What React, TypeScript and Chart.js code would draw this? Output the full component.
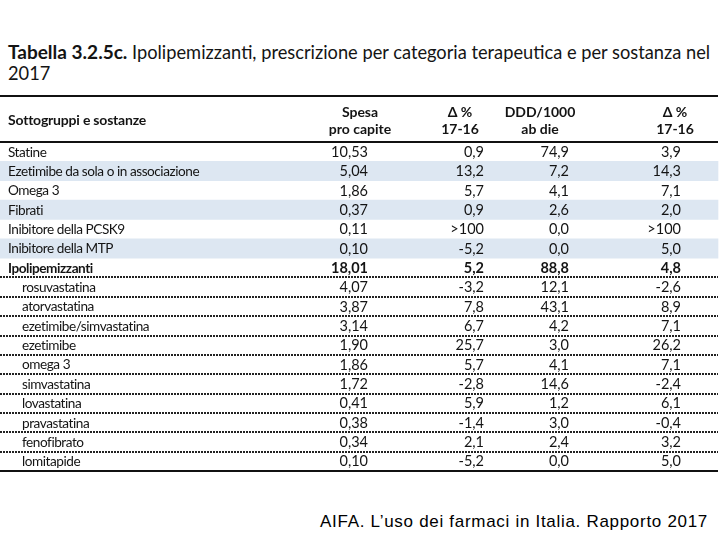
import React, { useEffect, useRef } from "react";
import { Chart, registerables } from "chart.js";

Chart.register(...registerables);

const rowLabels = [
  "Statine",
  "Ezetimibe da sola o in associazione",
  "Omega 3",
  "Fibrati",
  "Inibitore della PCSK9",
  "Inibitore della MTP",
  "Ipolipemizzanti",
  "rosuvastatina",
  "atorvastatina",
  "ezetimibe/simvastatina",
  "ezetimibe",
  "omega 3",
  "simvastatina",
  "lovastatina",
  "pravastatina",
  "fenofibrato",
  "lomitapide",
];
// null = ">100"
const spesaProCapite = [10.53, 5.04, 1.86, 0.37, 0.11, 0.1, 18.01, 4.07, 3.87, 3.14, 1.9, 1.86, 1.72, 0.41, 0.38, 0.34, 0.1];
const deltaSpesa = [0.9, 13.2, 5.7, 0.9, null, -5.2, 5.2, -3.2, 7.8, 6.7, 25.7, 5.7, -2.8, 5.9, -1.4, 2.1, -5.2];
const dddPer1000 = [74.9, 7.2, 4.1, 2.6, 0.0, 0.0, 88.8, 12.1, 43.1, 4.2, 3.0, 4.1, 14.6, 1.2, 3.0, 2.4, 0.0];
const deltaDdd = [3.9, 14.3, 7.1, 2.0, null, 5.0, 4.8, -2.6, 8.9, 7.1, 26.2, 7.1, -2.4, 6.1, -0.4, 3.2, 5.0];
const headerLine1 = ["Spesa", "Δ %", "DDD/1000", "Δ %"];
const headerLine2 = ["pro capite", "17-16", "ab die", "17-16"];
const firstHeader = "Sottogruppi e sostanze";
const highlightedRows = [1, 3, 5];
const totalRow = 6;
const firstSubstanceRow = 7;

const FONT = "Lato, 'Open Sans', sans-serif";
const TEXT = "#141414";

function fmt(v: number | null, d: number) {
  if (v === null) return ">100";
  return v.toFixed(d).replace(".", ",");
}

const tablePlugin = {
  id: "tableText",
  afterDatasetsDraw(chart: any) {
    const { ctx, chartArea, scales } = chart;
    const x = scales.x;
    const y = scales.y;
    const rowH = y.getPixelForValue(1) - y.getPixelForValue(0);
    const colRight = [368, 484, 569, 681].map((v) => x.getPixelForValue(v));
    const colCenter = [360, 460, 540, 675].map((v) => x.getPixelForValue(v));
    const cols = [
      spesaProCapite.map((v) => fmt(v, 2)),
      deltaSpesa.map((v) => fmt(v, 1)),
      dddPer1000.map((v) => fmt(v, 1)),
      deltaDdd.map((v) => fmt(v, 1)),
    ];
    ctx.save();
    ctx.fillStyle = TEXT;
    ctx.textBaseline = "middle";

    // header
    const top = chartArea.top;
    ctx.font = `bold 14px ${FONT}`;
    ctx.letterSpacing = "-0.2px";
    ctx.textAlign = "left";
    ctx.fillText(firstHeader, x.getPixelForValue(8), top - 22);
    ctx.letterSpacing = "0px";
    ctx.textAlign = "center";
    headerLine1.forEach((t, j) => ctx.fillText(t, colCenter[j], top - 30));
    headerLine2.forEach((t, j) => ctx.fillText(t, colCenter[j], top - 13));

    // rows
    rowLabels.forEach((label, i) => {
      const cy = y.getPixelForValue(i) + 0.5;
      const bold = i === totalRow ? "bold " : "";
      ctx.font = `${bold}13.6px ${FONT}`;
      ctx.letterSpacing = "-0.45px";
      ctx.textAlign = "left";
      ctx.fillText(label, x.getPixelForValue(i >= firstSubstanceRow ? 22 : 8), cy);
      ctx.font = `${bold}14.5px ${FONT}`;
      ctx.letterSpacing = "0px";
      ctx.textAlign = "right";
      cols.forEach((c, j) => ctx.fillText(c[i], colRight[j], cy));
    });

    // lines
    ctx.strokeStyle = "#111";
    ctx.lineWidth = 2;
    const x0 = x.getPixelForValue(0);
    const x1 = x.getPixelForValue(718);
    const hline = (yy: number) => {
      ctx.beginPath();
      ctx.moveTo(x0, yy);
      ctx.lineTo(x1, yy);
      ctx.stroke();
    };
    hline(top - 46);
    hline(top);
    hline(chartArea.bottom);
    ctx.lineWidth = 2;
    ctx.setLineDash([2, 1]);
    ctx.strokeStyle = "#222";
    for (let i = totalRow; i < rowLabels.length - 1; i++) {
      hline(Math.round(y.getPixelForValue(i) + rowH / 2));
    }
    ctx.restore();
  },
};

export default function App() {
  const ref = useRef<HTMLCanvasElement>(null);
  useEffect(() => {
    document.body.style.margin = "0";
    const chart = new Chart(ref.current!, {
      type: "bar",
      data: {
        labels: rowLabels,
        datasets: [
          {
            data: rowLabels.map((_, i) => (highlightedRows.includes(i) ? [0, 718] : null)) as any,
            backgroundColor: "#dde7f2",
            borderWidth: 0,
            barPercentage: 1,
            categoryPercentage: 1,
          },
        ],
      },
      options: {
        indexAxis: "y",
        animation: false,
        responsive: false,
        maintainAspectRatio: false,
        layout: { padding: { top: 52, bottom: 9, left: 0, right: 0 } },
        scales: {
          x: { type: "linear", min: 0, max: 720, display: false },
          y: { display: false },
        },
        plugins: { legend: { display: false }, tooltip: { enabled: false } },
      },
      plugins: [tablePlugin],
    });
    return () => chart.destroy();
  }, []);

  return (
    <div style={{ position: "relative", width: 720, height: 540, background: "#fff", overflow: "hidden" }}>
      <div
        style={{
          position: "absolute",
          left: 8,
          top: 41,
          width: 712,
          fontFamily: FONT,
          fontSize: 18.25,
          lineHeight: "21px",
          color: TEXT,
          whiteSpace: "nowrap",
        }}
      >
        <b style={{ fontSize: 19 }}>Tabella 3.2.5c.</b> Ipolipemizzanti, prescrizione per categoria terapeutica e per sostanza nel
        <br />
        2017
      </div>
      <canvas ref={ref} width={720} height={390} style={{ position: "absolute", left: 0, top: 90 }} />
      <div
        style={{
          position: "absolute",
          right: 12,
          top: 512,
          fontFamily: "'Liberation Sans', Arial, sans-serif",
          fontSize: 17,
          letterSpacing: "0.7px",
          lineHeight: "20px",
          color: "#000",
          whiteSpace: "nowrap",
        }}
      >
        AIFA. L’uso dei farmaci in Italia. Rapporto 2017
      </div>
    </div>
  );
}
